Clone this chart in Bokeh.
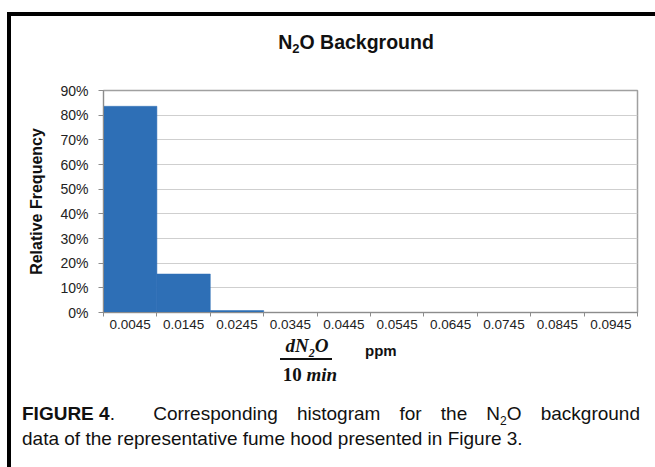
from bokeh.plotting import figure
from bokeh.models import Range1d, FixedTicker, NumeralTickFormatter, Div
from bokeh.layouts import column, row
from bokeh.embed import file_html
from bokeh.resources import INLINE

# ---- data ----
bin_labels = ["0.0045", "0.0145", "0.0245", "0.0345", "0.0445",
              "0.0545", "0.0645", "0.0745", "0.0845", "0.0945"]
rel_freq = [0.836, 0.156, 0.008, 0.0, 0.0, 0.0, 0.0, 0.0, 0.0, 0.0]
y_ticks = [0.0, 0.1, 0.2, 0.3, 0.4, 0.5, 0.6, 0.7, 0.8, 0.9]

y_label = "Relative Frequency"

SANS = "Liberation Sans"

n = len(bin_labels)
lefts = list(range(n))
rights = [i + 1 for i in lefts]
centers = [i + 0.5 for i in lefts]

p = figure(width=644, height=270, output_backend="svg", toolbar_location=None,
           x_range=Range1d(0, n), y_range=Range1d(0, 0.9),
           min_border_left=92, min_border_right=18,
           min_border_top=24, min_border_bottom=24)
p.background_fill_color = "white"
p.border_fill_color = "white"
p.outline_line_color = "#a0a0a0"
p.outline_line_width = 1.5

p.quad(left=lefts, right=rights, bottom=0, top=rel_freq,
       fill_color="#2e6fb6", line_color="#2e6fb6", line_width=0.5)

# y axis
yax = p.yaxis[0]
yax.ticker = FixedTicker(ticks=y_ticks)
yax.formatter = NumeralTickFormatter(format="0%")
yax.axis_line_color = "#8c8c8c"
yax.major_tick_line_color = "#8c8c8c"
yax.major_tick_out = 5
yax.major_tick_in = 0
yax.minor_tick_line_color = None
yax.major_label_text_font = SANS
yax.major_label_text_font_size = "14px"
yax.major_label_text_color = "#222222"
yax.major_label_standoff = 10
yax.axis_label = y_label
yax.axis_label_text_font = SANS
yax.axis_label_text_font_style = "bold"
yax.axis_label_text_font_size = "16px"
yax.axis_label_text_color = "#111111"
yax.axis_label_standoff = 12

# x axis: labels at bin centres, ticks at bin edges
xax = p.xaxis[0]
xax.ticker = FixedTicker(ticks=centers, minor_ticks=lefts + [n])
xax.major_label_overrides = {c: lab for c, lab in zip(centers, bin_labels)}
xax.major_tick_line_color = None
xax.major_tick_out = 0
xax.major_tick_in = 0
xax.minor_tick_line_color = "#8c8c8c"
xax.minor_tick_out = 4
xax.minor_tick_in = 0
xax.axis_line_color = "#8c8c8c"
xax.major_label_text_font = SANS
xax.major_label_text_font_size = "13.5px"
xax.major_label_text_color = "#222222"
xax.major_label_standoff = 3

p.ygrid.ticker = FixedTicker(ticks=y_ticks)
p.ygrid.grid_line_color = "#cfcfcf"
p.xgrid.grid_line_color = None

serif = "font-family:'Liberation Serif';font-weight:bold;color:#111;"
sans = "font-family:'Liberation Sans';color:#111;"

# ---- chart title ----
title_html = f"""
<div style="position:relative;width:644px;height:50px;">
  <div style="position:absolute;left:195px;top:14px;width:300px;text-align:center;
              font-size:19.5px;line-height:24px;font-weight:bold;{sans}">N<span style="font-size:13px;vertical-align:-4px;">2</span>O Background</div>
</div>
"""
title_div = Div(text=title_html, width=644, height=50, margin=0)

# ---- x-axis label (fraction) and figure caption ----
html = f"""
<div style="position:relative;width:644px;height:131px;overflow:visible;">
  <div style="position:absolute;left:256px;top:0px;width:80px;text-align:center;
              font-size:19px;line-height:20px;{serif}font-style:italic;">dN<sub style="font-size:12px;line-height:0;">2</sub>O</div>
  <div style="position:absolute;left:269px;top:22px;width:52px;height:2px;background:#111;"></div>
  <div style="position:absolute;left:259px;top:29px;width:80px;text-align:center;
              font-size:19px;line-height:20px;{serif}">10 <i>min</i></div>
  <div style="position:absolute;left:354px;top:5px;font-size:15px;line-height:20px;
              font-weight:bold;{sans}">ppm</div>
  <div style="position:absolute;left:11px;top:65px;width:618px;font-size:19px;line-height:25px;
              text-align:justify;text-align-last:justify;white-space:normal;{sans}"><span style="display:inline-block;white-space:nowrap;"><b>FIGURE 4</b>.</span>&nbsp; Corresponding histogram for the N<sub style="font-size:12px;line-height:0;">2</sub>O background</div>
  <div style="position:absolute;left:11px;top:90px;width:618px;font-size:19px;line-height:25px;
              text-align:left;{sans}">data of the representative fume hood presented in Figure 3.</div>
</div>
"""
cap = Div(text=html, width=644, height=131, margin=0)

# ---- black frame lines (top and left) with white spacers ----
def box(w, h, color="white"):
    return Div(text="", width=w, height=h, margin=0,
               styles={"background-color": color})

layout = column(
    box(655, 12),
    row(box(7, 4), box(648, 4, "black"), spacing=0),
    row(box(7, 451), box(4, 451, "black"),
        column(title_div, p, cap, spacing=0), spacing=0),
    spacing=0,
)

open("out.html", "w").write(file_html(layout, INLINE))
